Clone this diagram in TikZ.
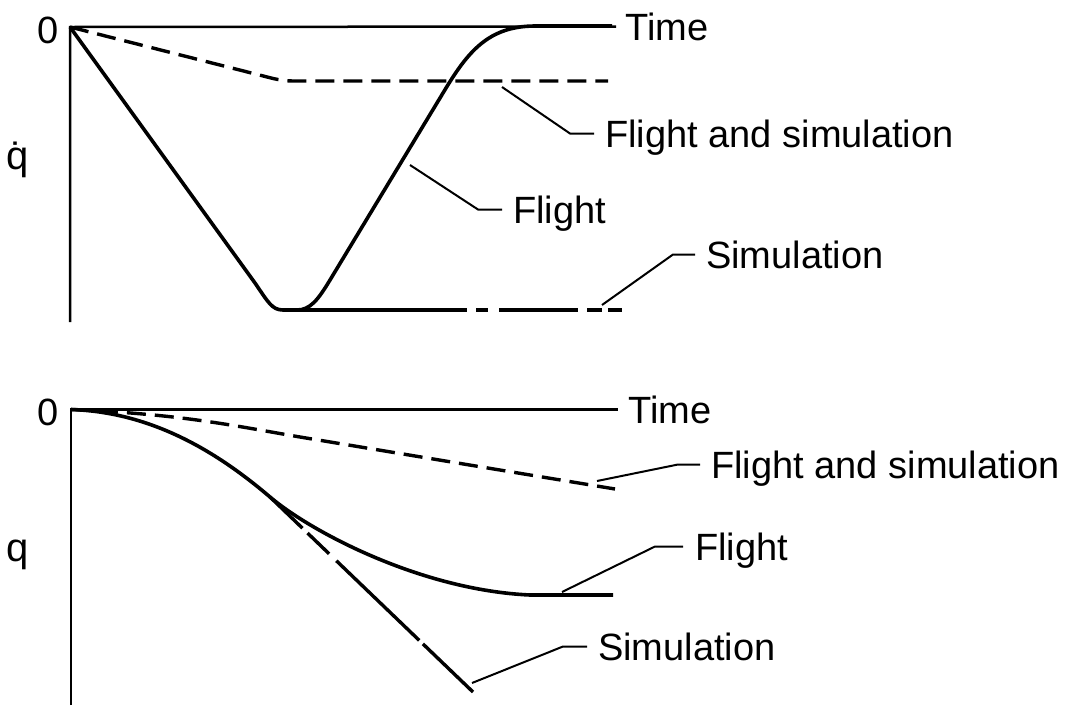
\documentclass[tikz,border=0pt]{standalone}
\usepackage{fontspec}
\setmainfont{Liberation Sans}
\begin{document}
\begin{tikzpicture}[x=1pt,y=-1pt,
  lab/.style={font=\fontsize{38}{40}\selectfont, inner sep=0pt, anchor=base west},
  axis/.style={line width=2.5pt},
  curve/.style={line width=3.6pt, line join=round},
  dashcurve/.style={line width=3.4pt, dash pattern=on 19pt off 9pt},
  leader/.style={line width=2pt}]
\path[use as bounding box] (0,0) rectangle (1071,705);

% ---------- top plot ----------
\coordinate (o1) at (70,27);
\coordinate (y1) at (70,322);
\node[lab] (t1) at (625,40) {Time};
\node[lab] (z1) at (37,43) {0};
\node[lab, font=\fontsize{40}{42}\selectfont] (qd) at (6,169) {\.{q}};
\node[lab] (fs1) at (605,147) {Flight and simulation};
\node[lab] (f1) at (513,223) {Flight};
\node[lab] (s1) at (706,268) {Simulation};

\draw[axis] (y1) -- (o1) -- ([xshift=-9pt,yshift=13.5pt]t1.base west);

% flight and simulation (dashed)
\draw[dashcurve, rounded corners=10pt] (o1) -- (283,81) -- (608,81);
% flight (solid)
\draw[curve] (o1) -- (255,283) .. controls (268,302) and (272,310) .. (283,310)
  -- (297,310) .. controls (310,310) and (318,300) .. (330,280)
  -- (440,98) .. controls (465,56) and (485,26) .. (535,26) -- (612,26);
% simulation
\coordinate (sb1) at (283,310);
\coordinate (se1) at (622,310);
\draw[line width=3.4pt, dash pattern=on 184pt off 9pt on 12pt off 11pt on 79pt off 9pt on 15pt off 6pt on 14pt] (sb1) -- (se1);

% leaders
\coordinate (lfs1) at (502,87);
\coordinate (lf1) at (410,165);
\coordinate (ls1) at (602,305);
\draw[leader] (lfs1) -- ([xshift=-35pt,yshift=13.5pt]fs1.base west) -- ([xshift=-11pt,yshift=13.5pt]fs1.base west);
\draw[leader] (lf1) -- ([xshift=-35pt,yshift=13.5pt]f1.base west) -- ([xshift=-11pt,yshift=13.5pt]f1.base west);
\draw[leader] (ls1) -- ([xshift=-33pt,yshift=13.5pt]s1.base west) -- ([xshift=-11pt,yshift=13.5pt]s1.base west);

% ---------- bottom plot ----------
\coordinate (o2) at (71,409.5);
\coordinate (y2) at (71,705);
\node[lab] (t2) at (628,423) {Time};
\node[lab] (z2) at (37,425) {0};
\node[lab, font=\fontsize{40}{42}\selectfont] (q2) at (6,561) {q};
\node[lab] (fs2) at (711,478) {Flight and simulation};
\node[lab] (f2) at (695,560) {Flight};
\node[lab] (s2) at (598,660) {Simulation};

\draw[axis] (y2) -- (o2) -- ([xshift=-10pt,yshift=13.5pt]t2.base west);

% flight and simulation (dashed)
\draw[dashcurve] (o2) .. controls (180,414) and (230,425) .. (300,437) -- (615,489);
% flight
\coordinate (br) at (270,497);
\draw[curve] (o2) .. controls (150,412) and (215,450) .. (br)
  .. controls (310,531) and (420,590) .. (530,595) -- (613,595);
% simulation
\coordinate (se2) at (473,692);
\draw[line width=3.4pt, dash pattern=on 45pt off 7pt on 30pt off 10pt on 115pt off 5pt on 80pt] (br) -- (se2);

% leaders
\coordinate (lfs2) at (597,481);
\coordinate (lf2) at (562,592);
\coordinate (ls2) at (472,683);
\draw[leader] (lfs2) -- ([xshift=-33pt,yshift=13.5pt]fs2.base west) -- ([xshift=-11pt,yshift=13.5pt]fs2.base west);
\draw[leader] (lf2) -- ([xshift=-40pt,yshift=13.5pt]f2.base west) -- ([xshift=-12pt,yshift=13.5pt]f2.base west);
\draw[leader] (ls2) -- ([xshift=-35pt,yshift=13.5pt]s2.base west) -- ([xshift=-11pt,yshift=13.5pt]s2.base west);
\end{tikzpicture}
\end{document}
